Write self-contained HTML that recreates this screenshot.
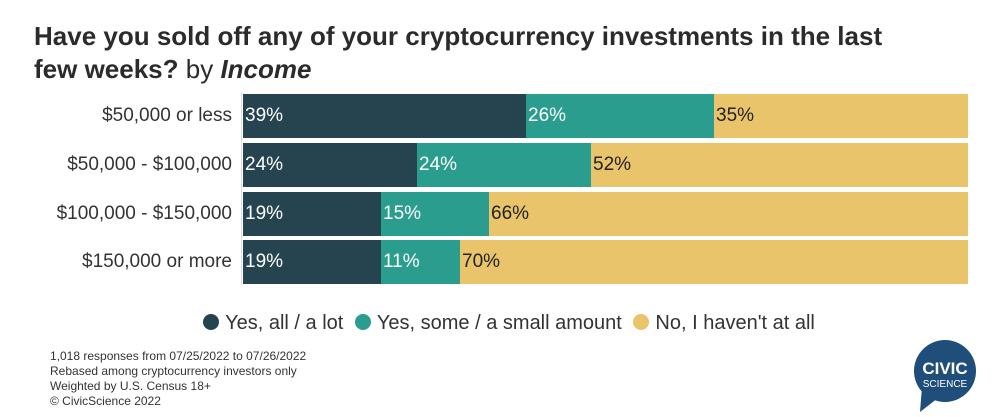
<!DOCTYPE html>
<html><head><meta charset="utf-8"><style>
body{margin:0;width:1000px;height:417px;background:#fff;font-family:"Liberation Sans",sans-serif;position:relative;overflow:hidden;color:#222}
.t{position:absolute;left:34px;top:20px;font-size:26px;font-weight:bold;line-height:33px;color:#2b2b2b}
.row{position:absolute;left:243px;width:725px;height:44px;display:flex}
.row div{height:100%;font-size:19px;line-height:44px;padding-left:2px;box-sizing:border-box;white-space:nowrap}
.a{background:#25444f;color:#fff}.b{background:#2a9d8f;color:#fff}.c{background:#e9c46a;color:#222}
.lab{position:absolute;right:768px;font-size:19px;line-height:44px;color:#333;white-space:nowrap}
.leg{position:absolute;top:312px;left:0;width:1012px;text-align:center;font-size:20px;color:#333}
.dot{display:inline-block;width:16px;height:16px;border-radius:50%;vertical-align:-1px;margin:0 6px 0 6px}
.f{position:absolute;left:50px;top:349px;font-size:12px;line-height:15px;color:#333}
</style></head><body>
<div class="t">Have you sold off any of your cryptocurrency investments in the last<br>few weeks? <span style="font-weight:normal">by</span> <i>Income</i></div>
<div style="position:absolute;left:241px;top:92px;width:1px;height:193px;background:#ddd"></div>
<div class="lab" style="top:94px">$50,000 or less</div>
<div class="row" style="top:94px"><div class="a" style="width:283px">39%</div><div class="b" style="width:188px">26%</div><div class="c" style="flex:1">35%</div></div>
<div class="lab" style="top:143px">$50,000 - $100,000</div>
<div class="row" style="top:143px"><div class="a" style="width:174px">24%</div><div class="b" style="width:174px">24%</div><div class="c" style="flex:1">52%</div></div>
<div class="lab" style="top:192px">$100,000 - $150,000</div>
<div class="row" style="top:192px"><div class="a" style="width:138px">19%</div><div class="b" style="width:108px">15%</div><div class="c" style="flex:1">66%</div></div>
<div class="lab" style="top:240px">$150,000 or more</div>
<div class="row" style="top:240px"><div class="a" style="width:138px">19%</div><div class="b" style="width:79px">11%</div><div class="c" style="flex:1">70%</div></div>
<div class="leg"><span class="dot" style="background:#25444f"></span>Yes, all / a lot <span class="dot" style="background:#2a9d8f"></span>Yes, some / a small amount <span class="dot" style="background:#e9c46a"></span>No, I haven't at all</div>
<div class="f">1,018 responses from 07/25/2022 to 07/26/2022<br>Rebased among cryptocurrency investors only<br>Weighted by U.S. Census 18+<br>© CivicScience 2022</div>
<svg style="position:absolute;left:907px;top:335px" width="80" height="82"><circle cx="38" cy="36" r="31" fill="#1f4e7a"/><path d="M15 52 L13 77 L31 63 Z" fill="#1f4e7a"/>
<text x="38" y="39" text-anchor="middle" fill="#fff" font-size="17" font-family="Liberation Sans" font-weight="bold">CIVIC</text>
<text x="38" y="52" text-anchor="middle" fill="#fff" font-size="10" font-family="Liberation Sans">SCIENCE</text></svg>
</body></html>
